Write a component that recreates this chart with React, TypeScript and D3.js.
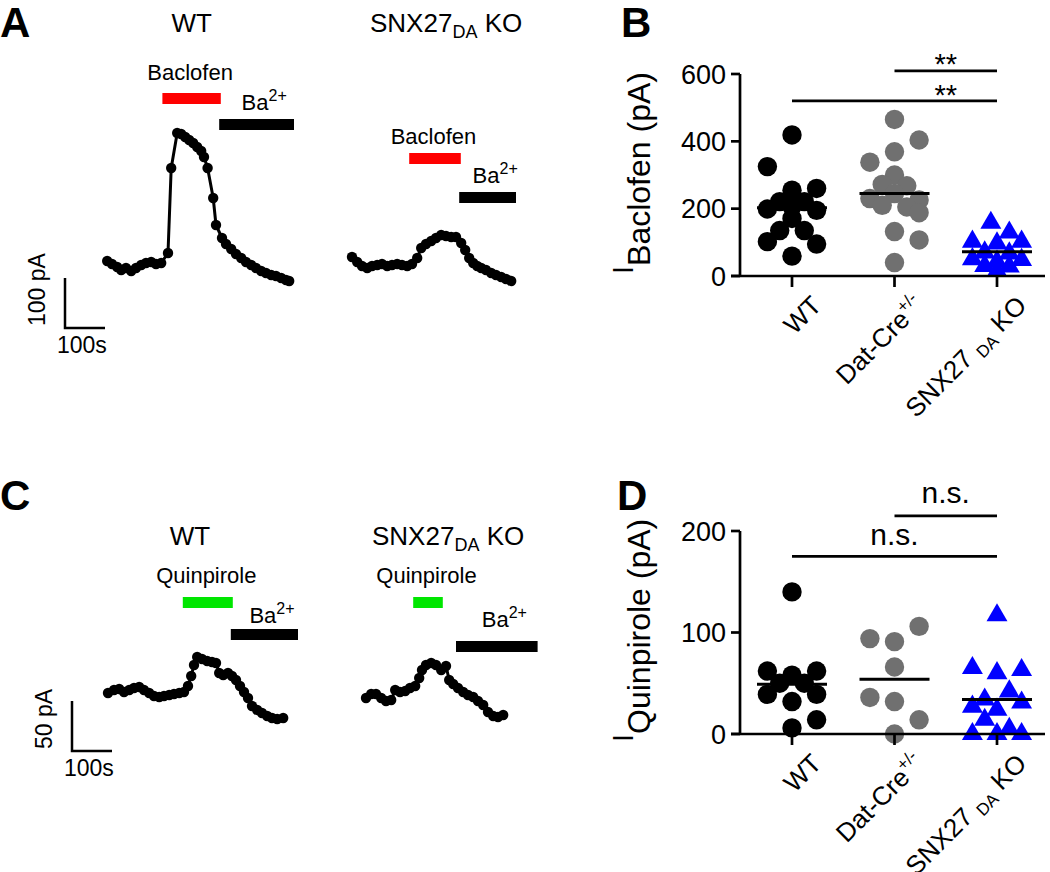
import React from "react";
import * as d3 from "d3";

const FONT = "'Liberation Sans', Arial, Helvetica, sans-serif";

// ---------- Panel A: baclofen-evoked currents (time s, current pA) ----------
const bacWtTime = [3, 15, 28, 38, 50, 63, 75, 88, 100, 113, 125, 138, 155, 163, 178, 188, 198, 208, 218, 228, 238, 245, 254, 268, 275, 290, 300, 313, 325, 338, 350, 363, 375, 388, 400, 413, 425, 438, 450, 458];
const bacWtCurrent = [4, -2, -8, -14, -10, -16, -10, -4, 0, 2, -2, 0, 20, 190, 260, 258, 252, 246, 240, 232, 224, 212, 190, 130, 76, 50, 38, 28, 18, 10, 2, -4, -10, -16, -20, -24, -26, -30, -34, -36];
const bacKoTime = [0, 13, 25, 38, 50, 63, 75, 88, 100, 113, 125, 138, 150, 163, 173, 185, 198, 210, 223, 235, 248, 260, 273, 283, 293, 303, 313, 323, 335, 348, 360, 373, 385, 398];
const bacKoCurrent = [16, 6, -2, -6, -2, 0, 2, -2, 0, 2, 0, -2, 2, 14, 34, 42, 48, 54, 60, 58, 56, 56, 44, 30, 14, 4, -2, -6, -10, -16, -20, -24, -28, -32];
const bacWtBaclofen = [141, 287];
const bacWtBarium = [283, 470];
const bacKoBaclofen = [143, 272];
const bacKoBarium = [268, 410];

// ---------- Panel C: quinpirole-evoked currents ----------
const quinWtTime = [0, 15, 28, 40, 53, 65, 78, 90, 103, 115, 128, 140, 153, 165, 178, 190, 200, 208, 215, 223, 235, 248, 260, 270, 278, 288, 300, 310, 320, 330, 340, 350, 360, 373, 385, 398, 410, 423, 438];
const quinWtCurrent = [0, 3, 4, 1, 3, 5, 6, 3, 0, -3, -4, -3, -2, -1, 0, 1, 7, 17, 28, 36, 34, 32, 31, 30, 20, 18, 20, 17, 13, 7, 1, -5, -13, -17, -20, -23, -25, -26, -25];
const quinKoTime = [0, 13, 25, 38, 50, 63, 73, 85, 98, 110, 123, 133, 140, 150, 163, 175, 188, 200, 208, 218, 230, 243, 255, 268, 280, 293, 305, 318, 330, 343];
const quinKoCurrent = [-1, 3, 3, -1, -4, -3, 7, 5, 6, 9, 11, 19, 27, 32, 34, 32, 27, 31, 17, 13, 9, 5, 2, 0, -4, -8, -15, -19, -20, -18];
const quinWtQuinpirole = [187, 312];
const quinWtBarium = [307, 475];
const quinKoQuinpirole = [118, 192];
const quinKoBarium = [225, 429];

// ---------- Panels B / D: scatter ----------
const groupNames = ["WT", "Dat-Cre+/-", "SNX27 DA KO"];

const bacWT = [419, 325, 260, 255, 221, 221, 206, 199, 195, 171, 135, 135, 102, 95, 59];
const bacWTCol = [0, -2, 2, 0, -1, 1, 0, -2, 2, 0, -1, 1, -2, 2, 0];
const bacDat = [465, 404, 369, 338, 300, 272, 268, 245, 230, 226, 210, 205, 188, 132, 107, 40];
const bacDatCol = [0, 2, 0, -2, 0, -1, 1, 0, -2, 2, -1, 1, 2, 0, 2, 0];
const bacKO = [158, 129, 102, 102, 97, 70, 67, 50, 48, 43, 30, 28, 15];
const bacKOCol = [-0.5, 1, -2, 2, 0, -1, 1, -2, 2, 0, -1, 1, 0];
const bacMeans = [203, 245, 72];
const bacTicks = [0, 200, 400, 600];

const quinWT = [140, 62, 62, 58, 50, 50, 39, 39, 32, 14, 6];
const quinWTCol = [0, -2, 2, 0, -1, 1, -2, 2, 0, 2, 0];
const quinDat = [106, 94, 91, 66, 36, 32, 14, 0];
const quinDatCol = [2, -2, 0, 0, -2, 0, 2, 0];
const quinKO = [117, 65, 60, 63, 42, 34, 31, 27, 24, 14, 0, 0, 5, 0];
const quinKOCol = [0, -2, 0, 2, 1, -1, 2, -2, 0, -1, -2, 0, 1, 2];
const quinMeans = [49, 54, 34];
const quinTicks = [0, 100, 200];

const GRAY = "#707070";
const BLUE = "#0000ff";

type TraceProps = {
  time: number[];
  current: number[];
  x0: number;
  y0: number;
  pxPer100s: number;
  pxPerPA: number;
  drug: number[];
  drugColor: string;
  drugName: string;
  ba: number[];
  drugBarY: number;
  baBarY: number;
  drugLabelY: number;
  baLabelY: number;
};

function TracePanel(p: TraceProps) {
  const x = d3.scaleLinear().domain([0, 100]).range([p.x0, p.x0 + p.pxPer100s]);
  const y = d3.scaleLinear().domain([0, 1]).range([p.y0, p.y0 - p.pxPerPA]);
  const pts = p.time.map((t, i) => [x(t), y(p.current[i])] as [number, number]);
  const line = d3.line();
  const dMid = (x(p.drug[0]) + x(p.drug[1])) / 2;
  const bMid = (x(p.ba[0]) + x(p.ba[1])) / 2;
  return (
    <g>
      <text x={dMid - 1.5} y={p.drugLabelY} textAnchor="middle" fontSize={22}>
        {p.drugName}
      </text>
      <rect x={x(p.drug[0])} y={p.drugBarY} width={x(p.drug[1]) - x(p.drug[0])} height={11} fill={p.drugColor} />
      <text x={bMid - 15} y={p.baLabelY} fontSize={22}>
        Ba<tspan fontSize={16} dy={-9}>2+</tspan>
      </text>
      <rect x={x(p.ba[0])} y={p.baBarY} width={x(p.ba[1]) - x(p.ba[0])} height={11} fill="#000" />
      <path d={line(pts) || ""} fill="none" stroke="#000" strokeWidth={3} strokeLinejoin="round" />
      {pts.map((q, i) => (
        <circle key={i} cx={q[0]} cy={q[1]} r={5.2} fill="#000" />
      ))}
    </g>
  );
}

function ScaleBar(p: { x: number; yBottom: number; pxPer100s: number; pxPerPA: number; iLen: number; iLabel: string }) {
  const xs = d3.scaleLinear().domain([0, 100]).range([p.x, p.x + p.pxPer100s]);
  const ys = d3.scaleLinear().domain([0, 1]).range([p.yBottom, p.yBottom - p.pxPerPA]);
  return (
    <g>
      <path
        d={`M${p.x},${ys(p.iLen)}V${p.yBottom}H${xs(100)}`}
        fill="none"
        stroke="#000"
        strokeWidth={2.5}
      />
      <text transform={`translate(${p.x - 20},${p.yBottom - 2}) rotate(-90)`} fontSize={23}>
        {p.iLabel}
      </text>
      <text x={p.x - 8} y={p.yBottom + 25} fontSize={23}>
        100s
      </text>
    </g>
  );
}

type SetDef = { values: number[]; cols: number[]; color: string; shape: "circle" | "triangle" };
type Sig = { from: number; to: number; level: number; at: number; text: string; dy: number; size: number };

function GroupLabel({ name }: { name: string }) {
  if (name.includes("+/-")) {
    const base = name.replace("+/-", "");
    return (
      <>
        {base}
        <tspan fontSize={17} dy={-11}>
          +/-
        </tspan>
      </>
    );
  }
  if (name.includes(" DA ")) {
    const [a, b] = name.split(" DA ");
    return (
      <>
        {a + " "}
        <tspan fontSize={17} dy={5}>
          DA
        </tspan>
        <tspan dy={-5}>{" " + b}</tspan>
      </>
    );
  }
  return <>{name}</>;
}

function ScatterPanel(p: {
  yMax: number;
  yBottom: number;
  yTop: number;
  ticks: number[];
  sets: SetDef[];
  means: number[];
  labelSub: string;
  labelStartY: number;
  sigs: Sig[];
}) {
  const axisX = 740;
  const y = d3.scaleLinear().domain([0, p.yMax]).range([p.yBottom, p.yTop]);
  const x = d3.scalePoint<number>().domain([0, 1, 2]).range([792, 997]);
  const step = 12.3;
  const spacing = (x(1) as number) - (x(0) as number);
  const tri = d3.symbol(d3.symbolTriangle, 190)() || "";
  const y0 = y(0);
  return (
    <g>
      {p.sets.map((s, gi) =>
        s.values.map((v, i) => {
          const cx = (x(gi) as number) + s.cols[i] * step;
          const cy = y(v);
          return s.shape === "circle" ? (
            <circle key={`${gi}-${i}`} cx={cx} cy={cy} r={9.7} fill={s.color} />
          ) : (
            <path key={`${gi}-${i}`} d={tri} transform={`translate(${cx},${cy})`} fill={s.color} />
          );
        })
      )}
      {p.means.map((m, gi) => (
        <line
          key={gi}
          x1={(x(gi) as number) - 35}
          x2={(x(gi) as number) + 35}
          y1={y(m)}
          y2={y(m)}
          stroke="#000"
          strokeWidth={3}
        />
      ))}
      <line x1={axisX} x2={axisX} y1={y(p.yMax)} y2={y0} stroke="#000" strokeWidth={2.7} />
      <line x1={axisX - 9} x2={1045} y1={y0} y2={y0} stroke="#000" strokeWidth={2.7} />
      {p.ticks.map((t) => (
        <g key={t}>
          <line x1={axisX - 9} x2={axisX} y1={y(t)} y2={y(t)} stroke="#000" strokeWidth={2.7} />
          <text x={axisX - 14} y={y(t) + 9.5} textAnchor="end" fontSize={27}>
            {t}
          </text>
        </g>
      ))}
      {groupNames.map((g, gi) => (
        <g key={g}>
          <line x1={x(gi) as number} x2={x(gi) as number} y1={y0} y2={y0 + 11} stroke="#000" strokeWidth={2.7} />
          <text
            transform={`translate(${(x(gi) as number) + 31},${y0 + 31}) rotate(-45)`}
            textAnchor="end"
            fontSize={26}
          >
            <GroupLabel name={g} />
          </text>
        </g>
      ))}
      <text transform={`translate(633,${p.labelStartY}) rotate(-90)`}>
        <tspan fontSize={29}>I</tspan>
        <tspan fontSize={32} dy={17}>
          {p.labelSub}
        </tspan>
      </text>
      {p.sigs.map((s, i) => (
        <g key={i}>
          <line
            x1={x(s.from) as number}
            x2={x(s.to) as number}
            y1={y(s.level)}
            y2={y(s.level)}
            stroke="#000"
            strokeWidth={2.7}
          />
          <text
            x={(x(0) as number) + s.at * spacing}
            y={y(s.level) + s.dy}
            textAnchor="middle"
            fontSize={s.size}
          >
            {s.text}
          </text>
        </g>
      ))}
    </g>
  );
}

function SnxTitle({ x, y }: { x: number; y: number }) {
  return (
    <text x={x} y={y} fontSize={26}>
      SNX27
      <tspan fontSize={18} dy={6}>
        DA
      </tspan>
      <tspan dy={-6}> KO</tspan>
    </text>
  );
}

export default function App() {
  return (
    <svg
      width={1050}
      height={872}
      style={{ position: "absolute", left: 0, top: 0, background: "#fff" }}
      fontFamily={FONT}
    >
      <rect width={1050} height={872} fill="#fff" />
      <g fontWeight="bold" fontSize={42}>
        <text x={0} y={37}>A</text>
        <text x={621} y={37}>B</text>
        <text x={0} y={510}>C</text>
        <text x={617} y={510}>D</text>
      </g>

      {/* Panel A */}
      <text x={191.7} y={32} textAnchor="middle" fontSize={26}>WT</text>
      <SnxTitle x={370} y={32} />
      <TracePanel
        time={bacWtTime}
        current={bacWtCurrent}
        x0={106}
        y0={263}
        pxPer100s={40}
        pxPerPA={0.5}
        drug={bacWtBaclofen}
        drugColor="#ff0000"
        drugName="Baclofen"
        ba={bacWtBarium}
        drugBarY={93}
        baBarY={119}
        drugLabelY={80}
        baLabelY={110}
      />
      <TracePanel
        time={bacKoTime}
        current={bacKoCurrent}
        x0={352}
        y0={265}
        pxPer100s={40}
        pxPerPA={0.5}
        drug={bacKoBaclofen}
        drugColor="#ff0000"
        drugName="Baclofen"
        ba={bacKoBarium}
        drugBarY={153}
        baBarY={192}
        drugLabelY={144}
        baLabelY={183}
      />
      <ScaleBar x={65} yBottom={328} pxPer100s={40} pxPerPA={0.5} iLen={100} iLabel="100 pA" />

      {/* Panel C */}
      <text x={190} y={545} textAnchor="middle" fontSize={26}>WT</text>
      <SnxTitle x={372} y={545} />
      <TracePanel
        time={quinWtTime}
        current={quinWtCurrent}
        x0={108}
        y0={693}
        pxPer100s={40}
        pxPerPA={1}
        drug={quinWtQuinpirole}
        drugColor="#00e600"
        drugName="Quinpirole"
        ba={quinWtBarium}
        drugBarY={597}
        baBarY={629}
        drugLabelY={583}
        baLabelY={623}
      />
      <TracePanel
        time={quinKoTime}
        current={quinKoCurrent}
        x0={366}
        y0={697}
        pxPer100s={40}
        pxPerPA={1}
        drug={quinKoQuinpirole}
        drugColor="#00e600"
        drugName="Quinpirole"
        ba={quinKoBarium}
        drugBarY={597}
        baBarY={641}
        drugLabelY={583}
        baLabelY={627}
      />
      <ScaleBar x={72} yBottom={751} pxPer100s={40} pxPerPA={1} iLen={50} iLabel="50 pA" />

      {/* Panel B */}
      <ScatterPanel
        yMax={600}
        yBottom={276}
        yTop={74}
        ticks={bacTicks}
        sets={[
          { values: bacWT, cols: bacWTCol, color: "#000", shape: "circle" },
          { values: bacDat, cols: bacDatCol, color: GRAY, shape: "circle" },
          { values: bacKO, cols: bacKOCol, color: BLUE, shape: "triangle" },
        ]}
        means={bacMeans}
        labelSub="Baclofen (pA)"
        labelStartY={274}
        sigs={[
          { from: 1, to: 2, level: 609, at: 1.5, text: "**", dy: 3, size: 29 },
          { from: 0, to: 2, level: 520, at: 1.5, text: "**", dy: 4, size: 29 },
        ]}
      />

      {/* Panel D */}
      <ScatterPanel
        yMax={200}
        yBottom={734}
        yTop={531}
        ticks={quinTicks}
        sets={[
          { values: quinWT, cols: quinWTCol, color: "#000", shape: "circle" },
          { values: quinDat, cols: quinDatCol, color: GRAY, shape: "circle" },
          { values: quinKO, cols: quinKOCol, color: BLUE, shape: "triangle" },
        ]}
        means={quinMeans}
        labelSub="Quinpirole (pA)"
        labelStartY={742}
        sigs={[
          { from: 1, to: 2, level: 215, at: 1.5, text: "n.s.", dy: -13, size: 30 },
          { from: 0, to: 2, level: 175, at: 1, text: "n.s.", dy: -11, size: 30 },
        ]}
      />
    </svg>
  );
}
